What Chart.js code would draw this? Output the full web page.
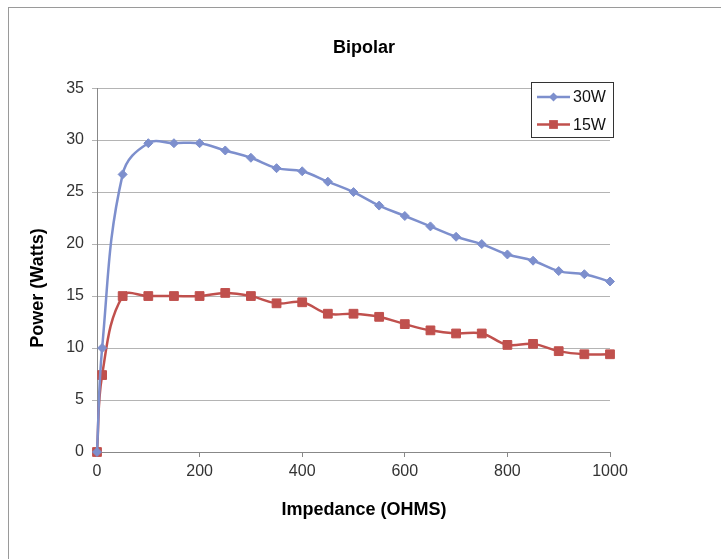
<!DOCTYPE html>
<html><head><meta charset="utf-8">
<script src="https://cdn.jsdelivr.net/npm/chart.js@4"></script>
<style>
html,body{margin:0;padding:0;background:#fff;}
#wrap{position:relative;width:728px;height:559px;overflow:hidden;}
#frame{position:absolute;left:8px;top:7px;width:712px;height:560px;border-left:1px solid #9a9a9a;border-top:1px solid #9a9a9a;}
canvas{position:absolute;left:0;top:0;}
</style></head><body>
<div id="wrap"><div id="frame"></div><canvas id="c" width="728" height="559"></canvas></div>
<script>
const chartTitle = 'Bipolar';
const xTitle = 'Impedance (OHMS)';
const yTitle = 'Power (Watts)';
const impedance = [0,10,50,100,150,200,250,300,350,400,450,500,550,600,650,700,750,800,850,900,950,1000];
const power30W = [0,10.0,26.7,29.7,29.7,29.7,29.0,28.3,27.3,27.0,26.0,25.0,23.7,22.7,21.7,20.7,20.0,19.0,18.4,17.4,17.1,16.4];
const power15W = [0,7.4,15.0,15.0,15.0,15.0,15.3,15.0,14.3,14.4,13.3,13.3,13.0,12.3,11.7,11.4,11.4,10.3,10.4,9.7,9.4,9.4];
const seriesNames = ['30W','15W'];
const xTicks = [0,200,400,600,800,1000];
const yTicks = [0,5,10,15,20,25,30,35];

const BLUE = '#7d8fcd';
const RED = '#c0504d';
const FONT = '"Liberation Sans", Arial, Helvetica, sans-serif';

function pts(xs, ys){ return xs.map((x,i)=>({x:x, y:ys[i]})); }

const titlesPlugin = {
  id:'axisTitles',
  afterDraw(chart){
    const ctx = chart.ctx;
    ctx.save();
    ctx.font = 'bold 18px ' + FONT;
    ctx.fillStyle = '#000';
    ctx.textAlign = 'center';
    ctx.textBaseline = 'middle';
    ctx.fillText(xTitle, 364, 510);
    ctx.translate(38, 288);
    ctx.rotate(-Math.PI/2);
    ctx.fillText(yTitle, 0, 0);
    ctx.restore();
  }
};

const legendPlugin = {
  id:'boxLegend',
  afterDraw(chart){
    const ctx = chart.ctx;
    ctx.save();
    const bx = 531.5, by = 82.5, bw = 82, bh = 55;
    ctx.fillStyle = '#fff';
    ctx.fillRect(bx, by, bw, bh);
    ctx.strokeStyle = '#333';
    ctx.lineWidth = 1;
    ctx.strokeRect(bx, by, bw, bh);
    chart.data.datasets.forEach((ds, i) => {
      const y = 97 + i*27.5;
      ctx.strokeStyle = ds.borderColor;
      ctx.lineWidth = 2.5;
      ctx.beginPath(); ctx.moveTo(537, y); ctx.lineTo(570, y); ctx.stroke();
      ctx.fillStyle = ds.pointBackgroundColor;
      const cx = 553.5;
      if (ds.pointStyle === 'rectRot') {
        const r = ds.pointRadius;
        ctx.beginPath(); ctx.moveTo(cx, y-r); ctx.lineTo(cx+r, y); ctx.lineTo(cx, y+r); ctx.lineTo(cx-r, y); ctx.closePath(); ctx.fill();
      } else {
        const s = ds.pointRadius*Math.SQRT1_2;
        ctx.fillRect(cx-s, y-s, 2*s, 2*s);
      }
      ctx.fillStyle = '#111';
      ctx.font = '16px ' + FONT;
      ctx.textAlign = 'left';
      ctx.textBaseline = 'middle';
      ctx.fillText(ds.label, 573, y+1);
    });
    ctx.restore();
  }
};

new Chart(document.getElementById('c'), {
  type:'line',
  data:{
    datasets:[
      {label:seriesNames[0], data:pts(impedance, power30W), borderColor:BLUE, backgroundColor:BLUE,
       pointBackgroundColor:BLUE, pointBorderColor:BLUE, pointStyle:'rectRot', pointRadius:4.5, pointBorderWidth:1,
       borderWidth:2.5, tension:0.4, fill:false, clip:false},
      {label:seriesNames[1], data:pts(impedance, power15W), borderColor:RED, backgroundColor:RED,
       pointBackgroundColor:RED, pointBorderColor:RED, pointStyle:'rect', pointRadius:6.2, pointBorderWidth:1,
       borderWidth:2.5, tension:0.4, fill:false, clip:false}
    ]
  },
  options:{
    responsive:false,
    animation:false,
    devicePixelRatio:1,
    layout:{padding:{left:0,right:0,top:0,bottom:0}},
    plugins:{
      legend:{display:false},
      tooltip:{enabled:false},
      title:{display:true, text:chartTitle, color:'#000', font:{family:FONT, size:18, weight:'bold'},
             padding:{top:37.5, bottom:29}}
    },
    scales:{
      x:{type:'linear', min:xTicks[0], max:xTicks[xTicks.length-1],
         afterBuildTicks:(s)=>{ s.ticks = xTicks.map(v=>({value:v})); },
         ticks:{color:'#333', font:{family:FONT, size:16}, padding:5, maxRotation:0, callback:(v)=>String(v)},
         grid:{drawOnChartArea:false, drawTicks:true, tickLength:5, color:'#888'},
         border:{color:'#888', width:1},
         afterFit:(s)=>{ s.height = 107; }},
      y:{type:'linear', min:yTicks[0], max:yTicks[yTicks.length-1],
         afterBuildTicks:(s)=>{ s.ticks = yTicks.map(v=>({value:v})); },
         ticks:{color:'#333', font:{family:FONT, size:16}, padding:8, callback:(v)=>String(v)},
         grid:{color:'#b4b4b4', tickLength:5, lineWidth:1},
         border:{color:'#888', width:1},
         afterFit:(s)=>{ s.width = 97; }},
      yR:{type:'linear', position:'right', display:true, min:0, max:1,
         ticks:{display:false}, grid:{display:false, drawTicks:false}, border:{display:false},
         afterFit:(s)=>{ s.width = 118; }}
    }
  },
  plugins:[titlesPlugin, legendPlugin]
});
</script>
</body></html>
